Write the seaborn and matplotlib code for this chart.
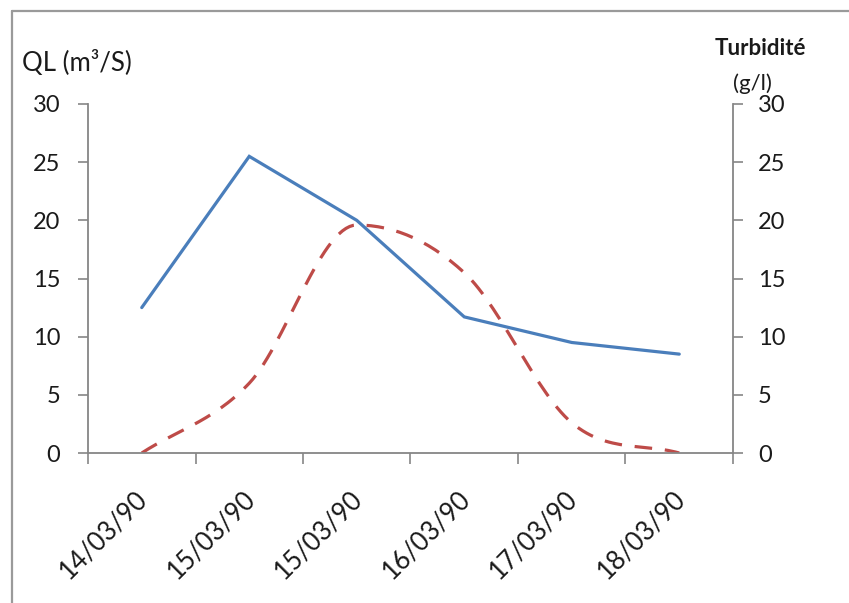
import numpy as np
import pandas as pd
import matplotlib
matplotlib.use("Agg")
import matplotlib.pyplot as plt
import matplotlib.transforms as mtransforms
import seaborn as sns
from matplotlib.lines import Line2D

dates = ["14/03/90", "15/03/90", "15/03/90", "16/03/90", "17/03/90", "18/03/90"]
ql_values = [12.5, 25.5, 20.0, 11.7, 9.5, 8.5]
turbidite_values = [0.0, 6.0, 19.6, 15.5, 2.6, 0.0]
y_ticks = [0, 5, 10, 15, 20, 25, 30]

sns.set_theme(style="white")
plt.rcParams["font.family"] = ["Lato", "DejaVu Sans"]

BLUE = "#4A7EBB"
RED = "#BE4B48"
AXC = "#868686"
TXT = "#1a1a1a"

fig = plt.figure(figsize=(8.49, 6.03), dpi=100)
W, H = 849, 603
ax = fig.add_axes([88 / W, 1 - 453 / H, (733 - 88) / W, (453 - 104) / H])
ax2 = ax.twinx()

pos = np.arange(len(dates))
df_ql = pd.DataFrame({"x": pos, "y": ql_values})
sns.lineplot(data=df_ql, x="x", y="y", ax=ax, color=BLUE, lw=2.3, sort=False,
             solid_joinstyle="miter")

# Smoothed rendering of the turbidity series (monotone cubic through the data)
tv = np.array(turbidite_values, dtype=float)
n = len(tv)
d = np.diff(tv)
m = np.zeros(n)
m[0], m[-1] = d[0], d[-1]
for i in range(1, n - 1):
    if d[i - 1] * d[i] > 0:
        m[i] = (d[i - 1] + d[i]) / 2
        lim = 3 * min(abs(d[i - 1]), abs(d[i]))
        m[i] = np.sign(m[i]) * min(abs(m[i]), lim)
xs, ys = [], []
for i in range(n - 1):
    t = np.linspace(0, 1, 30, endpoint=(i == n - 2))
    h00 = 2 * t**3 - 3 * t**2 + 1
    h10 = t**3 - 2 * t**2 + t
    h01 = -2 * t**3 + 3 * t**2
    h11 = t**3 - t**2
    ys.extend(h00 * tv[i] + h10 * m[i] + h01 * tv[i + 1] + h11 * m[i + 1])
    xs.extend(pos[i] + t)
df_t = pd.DataFrame({"x": xs, "y": ys})
sns.lineplot(data=df_t, x="x", y="y", ax=ax2, color=RED, lw=2.3, sort=False,
             linestyle=(0, (5.5, 4)), dash_capstyle="butt")

for a in (ax, ax2):
    a.set_ylim(0, 30)
    a.set_xlim(-0.5, len(dates) - 0.5)
    a.set_xlabel("")
    a.set_ylabel("")
    a.set_yticks(y_ticks)
    for s in a.spines.values():
        s.set_visible(False)

ax.spines["left"].set_visible(True)
ax.spines["bottom"].set_visible(True)
ax2.spines["right"].set_visible(True)
for s in (ax.spines["left"], ax.spines["bottom"], ax2.spines["right"]):
    s.set_color(AXC)
    s.set_linewidth(1.3)

ax.set_yticklabels([str(v) for v in y_ticks])
ax2.set_yticklabels([str(v) for v in y_ticks])
ax.tick_params(axis="y", which="major", direction="out", length=7, width=1.2,
               color=AXC, labelsize=17, pad=13, labelcolor=TXT, left=True)
ax2.tick_params(axis="y", which="major", direction="out", length=7, width=1.2,
                color=AXC, labelsize=17, pad=11, labelcolor=TXT, right=True)

ax.set_xticks(np.arange(-0.5, len(dates), 1.0))
ax.set_xticklabels([])
ax.set_xticks(pos, minor=True)
ax.set_xticklabels(dates, minor=True, rotation=45, ha="right", va="top",
                   rotation_mode="anchor")
ax.tick_params(axis="x", which="minor", length=0, labelsize=18.5, pad=24,
               labelcolor=TXT)
ax.tick_params(axis="x", which="major", direction="out", length=8, width=1.2,
               color=AXC, bottom=True)
offset = mtransforms.ScaledTranslation(-7 / 100, 0, fig.dpi_scale_trans)
for lab in ax.get_xticklabels(minor=True):
    lab.set_transform(lab.get_transform() + offset)
ax.set_zorder(ax2.get_zorder() + 1)
ax.patch.set_visible(False)

fig.text(22 / W, 1 - 71 / H, "QL (m³/S)", fontsize=18.5, color=TXT,
         ha="left", va="baseline")
fig.text(760 / W, 1 - 55 / H, "Turbidité", fontsize=16, fontweight="bold",
         color=TXT, ha="center", va="baseline")
fig.text(752 / W, 1 - 90 / H, "(g/l)", fontsize=16, color=TXT,
         ha="center", va="baseline")

fig.add_artist(Line2D([12 / W, 12 / W], [0, 1 - 11 / H], color="#9a9a9a", lw=1.6))
fig.add_artist(Line2D([12 / W, 1], [1 - 11 / H, 1 - 11 / H], color="#9a9a9a", lw=1.6))

fig.savefig("out.png", dpi=100)
